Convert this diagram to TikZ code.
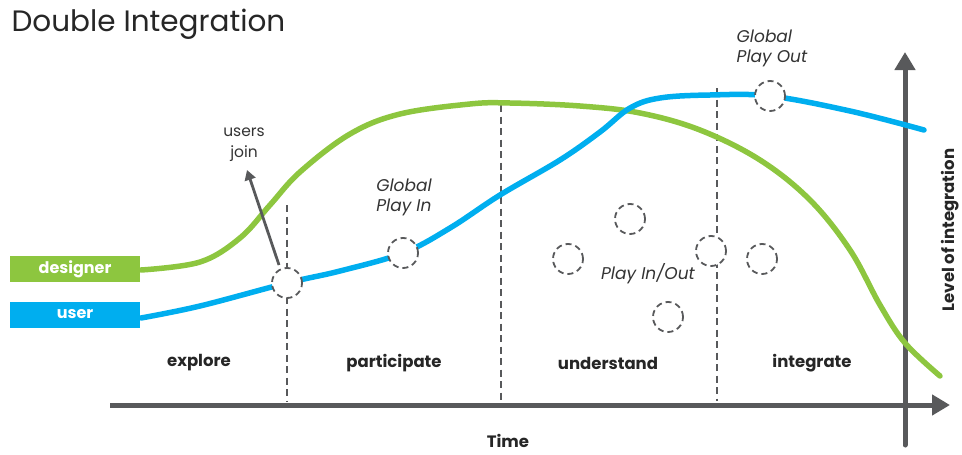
\documentclass[tikz,border=0pt]{standalone}
\usepackage{fontspec}
\setmainfont{Poppins}
\usetikzlibrary{arrows.meta}
\definecolor{dgreen}{HTML}{8DC63F}
\definecolor{ublue}{HTML}{00AEEF}
\definecolor{axgray}{HTML}{58595B}
\tikzset{
  curve/.style={line width=5.5pt, line cap=round},
  phaseline/.style={axgray, line width=1.8pt, dash pattern=on 7pt off 4.5pt},
  event/.style={circle, minimum size=30pt, inner sep=0pt, fill=white, draw=axgray, line width=1.8pt, dash pattern=on 6pt off 4pt},
  legendbox/.style={minimum width=130pt, minimum height=26pt, inner sep=0pt, text=white, font=\fontsize{16}{16}\selectfont\bfseries},
  phase/.style={font=\fontsize{16.5}{16.5}\selectfont\bfseries, text=black!85},
  note/.style={font=\fontsize{17}{20}\selectfont\itshape, text=black!80, align=left},
  axis/.style={axgray, line width=5pt, -{Triangle[length=18pt,width=20pt]}},
}
\begin{document}
\begin{tikzpicture}[x=1pt,y=-1pt]
\useasboundingbox (0,0) rectangle (962,455);
% title
\node[anchor=west, font=\fontsize{29.5}{29.5}\selectfont, text=black!85] (title) at (8,24) {Double Integration};
% legend
\node[legendbox, fill=dgreen] (designer) at (75,269) {designer};
\node[legendbox, fill=ublue] (user) at (75,314.5) {user};
% axes
\coordinate (xs) at (110,405);
\coordinate (xe) at (950,405);
\coordinate (ys) at (905,445);
\coordinate (ye) at (905,52);
\draw[axis] (xs) -- (xe);
\draw[axgray, line width=5pt, line cap=round] (ys) -- (905,70);
\draw[axis] (905,80) -- (ye);
% phase dividers
\coordinate (d1t) at (287,205); \coordinate (d1b) at (287,401);
\coordinate (d2t) at (501,105); \coordinate (d2b) at (501,401);
\coordinate (d3t) at (717,88);  \coordinate (d3b) at (717,401);
\draw[phaseline] (d1t) -- (d1b);
\draw[phaseline] (d2t) -- (d2b);
\draw[phaseline] (d3t) -- (d3b);
% designer curve
\draw[curve, dgreen] plot[smooth, tension=0.6] coordinates {
 (141,270) (200,262) (240,238) (270,205) (300,172) (350,134) (400,114) (470,104) (510,103)
 (580,106) (640,113) (700,130) (760,160) (810,200) (850,250) (880,305) (905,343) (940,376)};
% user curve
\draw[curve, ublue] plot[smooth, tension=0.6] coordinates {
 (141,318) (200,306) (287,283) (340,271) (403,253) (450,228) (500,195) (560,160) (600,132)
 (630,108) (660,98) (710,95) (770,96) (850,111) (924,130)};
% users join arrow
\coordinate (ujs) at (279,265);
\coordinate (uje) at (247,170);
\draw[axgray, line width=2.8pt, -{Triangle[length=10pt,width=11pt]}] (ujs) -- (uje);
% events
\node[event] (e1) at (287,283) {};
\node[event] (e2) at (403,253) {};
\node[event] (e3) at (770,96) {};
\node[event] (e4) at (630,219) {};
\node[event] (e5) at (568,259) {};
\node[event] (e6) at (711,251) {};
\node[event] (e7) at (762,259) {};
\node[event] (e8) at (668,317) {};
% labels
\node[font=\fontsize{15.5}{21}\selectfont, text=black!80, align=center] (uj) at (244,145) {users\\join};
\node[note] (gpi) at (404,197) {Global\\Play In};
\node[note] (gpo) at (772,48) {Global\\Play Out};
\node[note] (pio) at (648,274) {Play In/Out};
\node[phase] (p1) at (199,363) {explore};
\node[phase] (p2) at (394,363) {participate};
\node[phase] (p3) at (608,363) {understand};
\node[phase] (p4) at (812,363) {integrate};
\node[phase] (time) at (508,441) {Time};
\node[phase, rotate=90] (lvl) at (950,230) {Level of integration};
\end{tikzpicture}
\end{document}
